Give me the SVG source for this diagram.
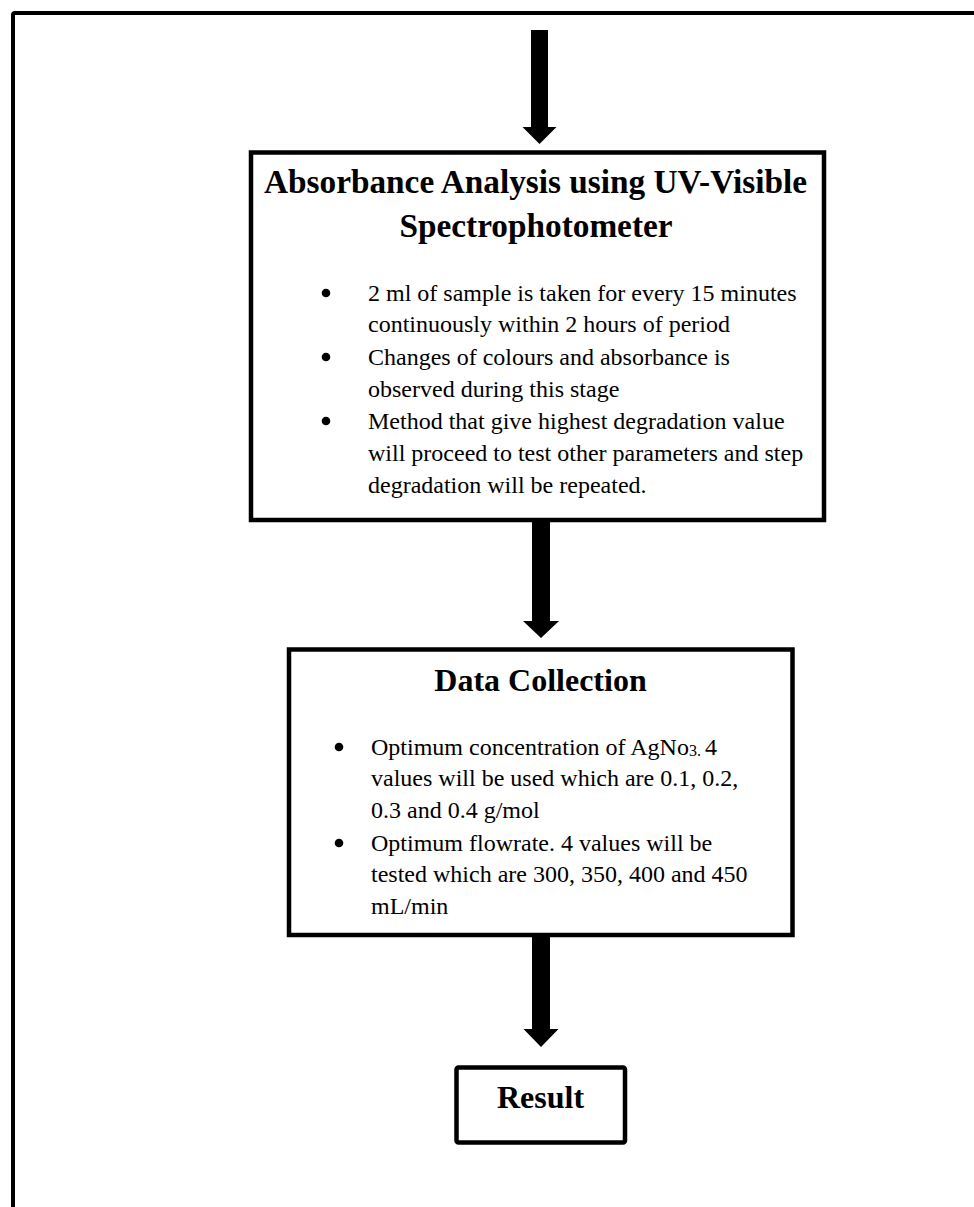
<svg xmlns="http://www.w3.org/2000/svg" width="974" height="1207" viewBox="0 0 974 1207">
  <style>
    .frame { fill: none; stroke: #000; stroke-width: 4; }
    .box { fill: #fff; stroke: #000; stroke-width: 4.5; }
    .arrow { fill: #000; stroke: none; }
    .title { font-family: "Liberation Serif", "Times New Roman", serif; font-weight: bold; font-size: 32px; fill: #000; text-anchor: middle; }
    .title-wide { font-size: 33.3px; }
    .body { font-family: "Liberation Serif", "Times New Roman", serif; font-size: 24px; fill: #000; }
    .dot { fill: #000; }
  </style>

  <rect width="974" height="1207" fill="#fff"/>
  <!-- page frame, running past the right and bottom edges -->
  <rect class="frame" x="13" y="13" width="1000" height="1260" rx="2"/>

  <g id="connectors">
    <path class="arrow" d="M531,30 H548 V127 H556.5 L539.5,144 L522.5,127 H531 Z"/>
    <path class="arrow" d="M532,522 H550 V621 H559 L541,638 L523,621 H532 Z"/>
    <path class="arrow" d="M532,934 H550 V1029 H558.5 L541,1047 L523.5,1029 H532 Z"/>
  </g>

  <g id="absorbance-analysis">
    <rect class="box" x="251" y="152.5" width="573" height="367.5"/>
    <text class="title title-wide" x="535.5" y="193">Absorbance Analysis using UV-Visible</text>
    <text class="title title-wide" x="536" y="237">Spectrophotometer</text>
    <circle class="dot" cx="326" cy="293" r="4.3"/>
    <text class="body" x="368" y="301">2 ml of sample is taken for every 15 minutes</text>
    <text class="body" x="368" y="332">continuously within 2 hours of period</text>
    <circle class="dot" cx="326" cy="357" r="4.3"/>
    <text class="body" x="368" y="365">Changes of colours and absorbance is</text>
    <text class="body" x="368" y="397">observed during this stage</text>
    <circle class="dot" cx="326" cy="421" r="4.3"/>
    <text class="body" x="368" y="429">Method that give highest degradation value</text>
    <text class="body" x="368" y="461">will proceed to test other parameters and step</text>
    <text class="body" x="368" y="493">degradation will be repeated.</text>
  </g>

  <g id="data-collection">
    <rect class="box" x="289" y="649.5" width="503.5" height="285.5"/>
    <text class="title" x="540.5" y="691">Data Collection</text>
    <circle class="dot" cx="339" cy="747" r="4.3"/>
    <text class="body" x="371" y="755">Optimum concentration of AgNo<tspan font-size="16" dy="1">3. </tspan><tspan dy="-1">4</tspan></text>
    <text class="body" x="371" y="786">values will be used which are 0.1, 0.2,</text>
    <text class="body" x="371" y="818">0.3 and 0.4 g/mol</text>
    <circle class="dot" cx="339" cy="843" r="4.3"/>
    <text class="body" x="371" y="851">Optimum flowrate. 4 values will be</text>
    <text class="body" x="371" y="882">tested which are 300, 350, 400 and 450</text>
    <text class="body" x="371" y="914">mL/min</text>
  </g>

  <g id="result">
    <rect class="box" x="456.5" y="1067.5" width="168.5" height="75" rx="2"/>
    <text class="title" x="540.5" y="1108">Result</text>
  </g>
</svg>
